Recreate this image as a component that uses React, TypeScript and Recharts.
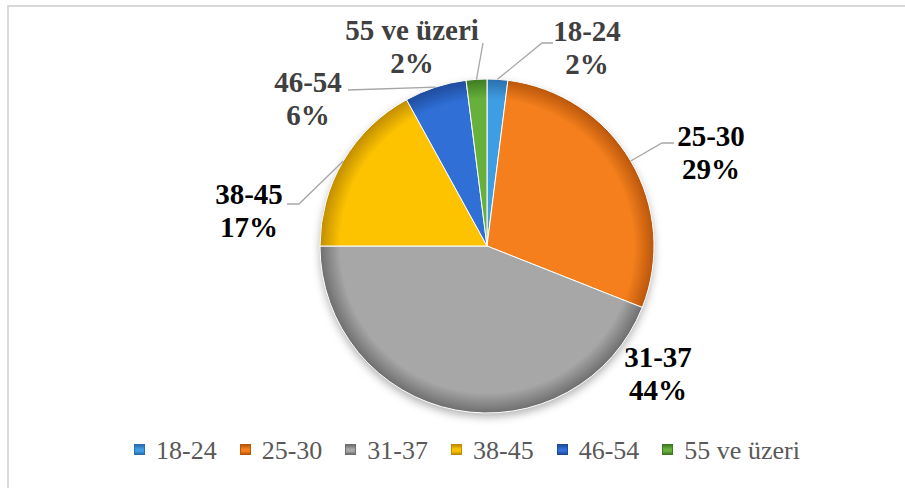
import { PieChart, Pie, Cell, Legend } from "recharts"

const CATEGORIES = ["18-24", "25-30", "31-37", "38-45", "46-54", "55 ve üzeri"]
const SHARES = [2, 29, 44, 17, 6, 2]

const BASE = ["#3f9de3", "#f47f1c", "#a7a7a7", "#fdc300", "#2f6fd6", "#68b03c"]
const SHADE = ["#2a6fab", "#b9560c", "#6e6e6e", "#c08d00", "#1f4a9a", "#3f7a22"]
const LABEL_COLORS = ["#404040", "#000000", "#000000", "#000000", "#404040", "#404040"]

// label block offsets from the pie centre (line 1 centre, optional elbow, leader end)
const LABEL_LAYOUT = [
  { dx: 100, dy: -215, elbow: [55, -203], end: [66, -203] },
  { dx: 224, dy: -110, elbow: [175, -103], end: [187, -103] },
  { dx: 171, dy: 111, elbow: null, end: null },
  { dx: -238, dy: -52, elbow: [-188, -42], end: [-200, -42] },
  { dx: -179, dy: -164, elbow: null, end: [-139, -156] },
  { dx: -75, dy: -216, elbow: null, end: [-4, -203] },
]

const data = CATEGORIES.map((name, i) => ({ name, value: SHARES[i] }))
const SHADOW = [{ name: "shadow", value: 1 }]

const CX = 487
const CY = 246
const R = 167
const RAD = Math.PI / 180
const FONT = "'Liberation Serif', serif"

function renderLabel(props: any) {
  const { midAngle, index, percent } = props
  const cx = props.cx ?? CX
  const cy = props.cy ?? CY
  const r = props.outerRadius ?? R
  const lay = LABEL_LAYOUT[index]
  const sx = cx + r * Math.cos(-midAngle * RAD)
  const sy = cy + r * Math.sin(-midAngle * RAD)
  const pts: number[][] = [[sx, sy]]
  if (lay.elbow) pts.push([cx + lay.elbow[0], cy + lay.elbow[1]])
  if (lay.end) pts.push([cx + lay.end[0], cy + lay.end[1]])
  const d = pts.map((p, k) => `${k === 0 ? "M" : "L"}${p[0]},${p[1]}`).join(" ")
  return (
    <g key={`lbl-${index}`}>
      {lay.end && <path d={d} stroke="#a6a6a6" strokeWidth={1.3} fill="none" />}
      <text
        x={cx + lay.dx}
        y={cy + lay.dy}
        textAnchor="middle"
        dominantBaseline="central"
        fontFamily={FONT}
        fontWeight="bold"
        fontSize={29}
        fill={LABEL_COLORS[index]}
      >
        <tspan x={cx + lay.dx} dy={0}>{CATEGORIES[index]}</tspan>
        <tspan x={cx + lay.dx} dy={33}>{`${Math.round(percent * 100)}%`}</tspan>
      </text>
    </g>
  )
}

function renderLegend() {
  return (
    <div style={{ display: "flex", alignItems: "center", fontFamily: FONT, fontSize: 26, color: "#595959", lineHeight: "30px" }}>
      {CATEGORIES.map((c, i) => (
        <span key={c} style={{ display: "flex", alignItems: "center", marginRight: 23, whiteSpace: "nowrap" }}>
          <span
            style={{
              display: "inline-block",
              width: 9,
              height: 9,
              marginRight: 11,
              marginTop: -3,
              border: `1px solid ${SHADE[i]}`,
              background: `linear-gradient(180deg, ${SHADE[i]} 0%, ${BASE[i]} 45%, ${BASE[i]} 70%, ${SHADE[i]} 100%)`,
            }}
          />
          {c}
        </span>
      ))}
    </div>
  )
}

export default function App() {
  return (
    <div style={{ position: "absolute", left: 0, top: 0, width: 905, height: 488, overflow: "hidden", background: "#ffffff" }}>
      <div
        style={{
          position: "absolute",
          left: 7,
          top: 5,
          width: 920,
          height: 500,
          border: "2px solid #d9d9d9",
        }}
      />
      <div style={{ position: "absolute", left: 0, top: 0 }}>
        <PieChart width={905} height={488} margin={{ top: 0, right: 0, bottom: 0, left: 0 }}>
          <defs>
            {BASE.map((b, i) => (
              <radialGradient key={i} id={`slice${i}`} gradientUnits="userSpaceOnUse" cx={CX} cy={CY} r={R}>
                <stop offset="0%" stopColor={b} />
                <stop offset="88%" stopColor={b} />
                <stop offset="100%" stopColor={SHADE[i]} />
              </radialGradient>
            ))}
            <filter id="pieShadow" x="-20%" y="-20%" width="140%" height="140%">
              <feGaussianBlur stdDeviation="4" />
            </filter>
          </defs>
          <Pie
            data={SHADOW}
            dataKey="value"
            cx={CX}
            cy={CY + 4}
            outerRadius={R}
            startAngle={90}
            endAngle={-270}
            isAnimationActive={false}
            stroke="none"
            label={false}
            labelLine={false}
            legendType="none"
          >
            <Cell fill="#000000" fillOpacity={0.3} filter="url(#pieShadow)" />
          </Pie>
          <Pie
            data={data}
            dataKey="value"
            nameKey="name"
            cx={CX}
            cy={CY}
            outerRadius={R}
            startAngle={90}
            endAngle={-270}
            isAnimationActive={false}
            stroke="#ffffff"
            strokeWidth={1}
            label={renderLabel}
            labelLine={false}
          >
            {data.map((d, i) => (
              <Cell key={d.name} fill={`url(#slice${i})`} />
            ))}
          </Pie>
          <Legend content={renderLegend} wrapperStyle={{ position: "absolute", left: 134, top: 436, width: 760 }} />
        </PieChart>
      </div>
    </div>
  )
}
